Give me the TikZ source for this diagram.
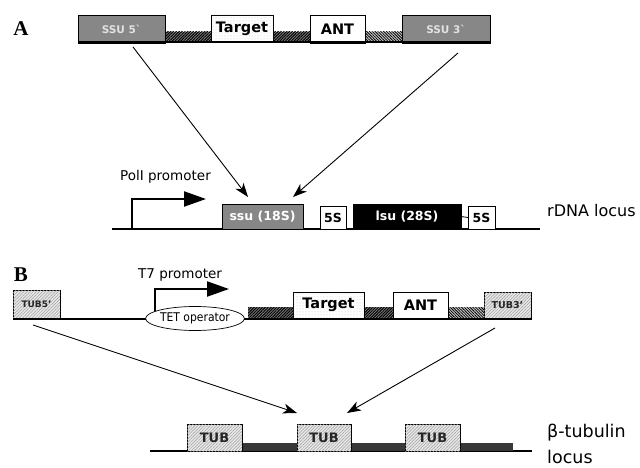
\documentclass[tikz,border=0pt]{standalone}
\usepackage{fontspec}
\setmainfont{DejaVu Sans}
\newfontfamily\serifb{Liberation Serif}
\newfontfamily\condf{DejaVu Sans Condensed}
\usetikzlibrary{patterns,patterns.meta,arrows.meta,shapes.geometric,calc}
\definecolor{ssugray}{HTML}{878787}
\definecolor{ssutext}{HTML}{E2E2E2}
\begin{document}
\begin{tikzpicture}[x=1pt,y=-1pt,
  fs/.style={font=\fontsize{#1}{#1}\selectfont},
  bfs/.style={font=\bfseries\fontsize{#1}{#1}\selectfont},
  box/.style={draw=black, line width=0.8pt, inner sep=0pt, outer sep=0pt},
  ssubox/.style={box, fill=ssugray, text=ssutext, bfs=10.5},
  targetbox/.style={box, fill=white, bfs=14.5, postaction={pattern=dots, pattern color=gray!45}},
  antbox/.style={box, fill=white, bfs=14.5},
  tubbox/.style={box, fill=gray!18, text=black!85, postaction={pattern={Lines[angle=45,distance=2.2pt,line width=0.5pt]}, pattern color=gray!75}},
  darkstrip/.style={fill=black!50, postaction={pattern={Lines[angle=45,distance=2pt,line width=1pt]}, pattern color=black}},
  lightstrip/.style={fill=gray!45, postaction={pattern={Lines[angle=-45,distance=2pt,line width=0.8pt]}, pattern color=black}},
  promo/.style={line width=2.2pt, -{Triangle[length=22pt,width=15pt]}},
  arr/.style={line width=0.9pt, -{Stealth[length=14pt,width=10pt,inset=4pt]}},
  panel/.style={font=\serifb\bfseries\fontsize{21}{21}\selectfont}
]
\useasboundingbox (0,0) rectangle (640,468);

% ---------------- Panel A ----------------
\node[panel] (labA) at (21,29) {A};
\fill[darkstrip] (165,32) rectangle (211,42);
\fill[darkstrip] (273,32) rectangle (310,42);
\fill[lightstrip] (365,32) rectangle (402,42);
\node[ssubox, minimum width=87, minimum height=28] (ssu5) at (121.5,29) {SSU 5\textasciigrave};
\node[targetbox, minimum width=62, minimum height=27] (tgtA) at (242,28.5) {Target};
\node[antbox, minimum width=55, minimum height=28] (antA) at (337.5,29) {ANT};
\node[ssubox, minimum width=88, minimum height=28] (ssu3) at (446,29) {SSU 3\textasciigrave};
\draw[line width=2pt] (78,42.5) -- (490,42.5);

% rDNA locus
\draw[line width=1.6pt] (112,229) -- (540,229);
\coordinate (polbase) at (132,229.8);
\coordinate (poltip) at (206,199);
\draw[promo] (polbase) |- (poltip);
\node[fs=13.5, anchor=base west, inner sep=0pt] (poltext) at (120,180) {PolI promoter};
\node[box, fill=ssugray, text=white, bfs=12.5, minimum width=81, minimum height=25] (ssu18) at (262.5,216.5) {ssu (18S)};
\node[box, fill=white, bfs=12.5, minimum width=26, minimum height=23] (fiveS1) at (333,217.5) {5S};
\node[box, fill=black, text=white, bfs=12.5, minimum width=108, minimum height=25] (lsu) at (407,216.5) {lsu (28S)};
\node[box, fill=white, bfs=12.5, minimum width=27, minimum height=23] (fiveS2) at (481.5,217.5) {5S};
\draw[line width=0.8pt] (lsu.east) -- (fiveS2.west);
\node[fs=16, anchor=base west, inner sep=0pt] (rdna) at (547,216) {rDNA locus};

\coordinate (a1s) at ($(ssu5.south)+(11.5,4)$);
\coordinate (a1e) at ($(ssu18.north)+(-14.5,-7)$);
\coordinate (a2s) at ($(ssu3.south)+(12,10)$);
\coordinate (a2e) at ($(ssu18.north)+(30.5,-7)$);
\draw[arr] (a1s) -- (a1e);
\draw[arr] (a2s) -- (a2e);

% ---------------- Panel B ----------------
\node[panel] (labB) at (21,275) {B};
\fill[darkstrip] (248,307) rectangle (293,318);
\fill[darkstrip] (364,307) rectangle (393,318);
\fill[lightstrip] (448,307) rectangle (484,318);
\node[tubbox, bfs=9, minimum width=47, minimum height=28] (tub5) at (36.5,304) {TUB5’};
\node[targetbox, minimum width=71, minimum height=26] (tgtB) at (328.5,305) {Target};
\node[antbox, minimum width=55, minimum height=26] (antB) at (420.5,305) {ANT};
\node[tubbox, bfs=9.5, minimum width=47, minimum height=26] (tub3) at (507.5,305) {TUB3’};
\draw[line width=2pt] (13,318.5) -- (532,318.5);
\coordinate (t7base) at (155,318);
\coordinate (t7tip) at (229,289);
\draw[promo] (t7base) |- (t7tip);
\node[fs=13.5, anchor=base west, inner sep=0pt] (t7text) at (138,278) {T7 promoter};
\node[ellipse, draw=black, line width=0.7pt, fill=white, font=\condf\fontsize{12}{12}\selectfont, inner sep=0pt, minimum width=74, minimum height=24] (tet) at (195,318.5) {TET operator};

% beta-tubulin locus
\draw[line width=1.3pt] (150,451) -- (532,451);
\fill[black!78] (242,443) rectangle (297,451);
\fill[black!78] (351,443) rectangle (405,451);
\fill[black!78] (460,443) rectangle (513,451);
\node[tubbox, bfs=13, minimum width=55, minimum height=27] (tubA) at (214.5,437.5) {TUB};
\node[tubbox, bfs=13, minimum width=54, minimum height=27] (tubB) at (324,437.5) {TUB};
\node[tubbox, bfs=13, minimum width=55, minimum height=27] (tubC) at (432.5,437.5) {TUB};
\node[fs=17.5, anchor=base west, inner sep=0pt] (btub) at (547,437) {β-tubulin};
\node[fs=17.5, anchor=base west, inner sep=0pt] (blocus) at (547,463) {locus};

\coordinate (b1s) at ($(tub5.south)+(-3.5,7)$);
\coordinate (b1e) at ($(tubB.north)+(-27,-11)$);
\coordinate (b2s) at ($(tub3.south)+(-12.5,10)$);
\coordinate (b2e) at ($(tubB.north)+(23,-11)$);
\draw[arr] (b1s) -- (b1e);
\draw[arr] (b2s) -- (b2e);
\end{tikzpicture}
\end{document}
